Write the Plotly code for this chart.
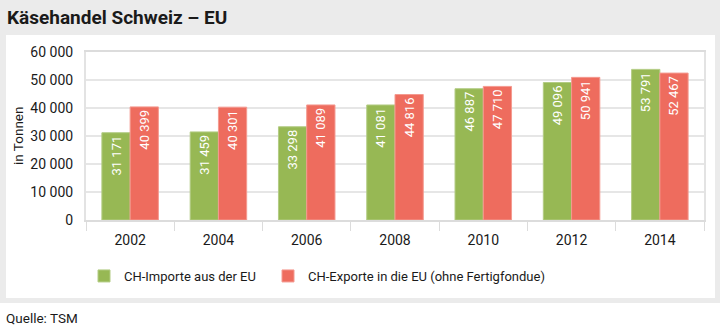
import plotly.graph_objects as go

years = ["2002", "2004", "2006", "2008", "2010", "2012", "2014"]
imports_eu = [31171, 31459, 33298, 41081, 46887, 49096, 53791]
exports_eu = [40399, 40301, 41089, 44816, 47710, 50941, 52467]
series_names = ["CH-Importe aus der EU", "CH-Exporte in die EU (ohne Fertigfondue)"]
y_ticks = [0, 10000, 20000, 30000, 40000, 50000, 60000]

W, H = 720, 327
L, R, T, B = 86, 16, 52, 107
PW, PH = W - L - R, H - T - B

def px(x):
    return (x - L) / PW

def py(y):
    return (H - B - y) / PH

FONT = "Roboto, sans-serif"
GREEN = "#97b854"
RED = "#ee6c5e"

fig = go.Figure()
fig.add_bar(x=years, y=imports_eu, name=series_names[0], legend="legend",
            marker=dict(color=GREEN, line=dict(color="#b3cc84", width=1)),
            texttemplate="%{y:,}", textposition="inside", insidetextanchor="end",
            textangle=-90, textfont=dict(color="white", size=13, family=FONT))
fig.add_bar(x=years, y=exports_eu, name=series_names[1], legend="legend2",
            marker=dict(color=RED, line=dict(color="#f49a90", width=1)),
            texttemplate="%{y:,}", textposition="inside", insidetextanchor="end",
            textangle=-90, textfont=dict(color="white", size=13, family=FONT))

shapes = [
    dict(type="rect", xref="paper", yref="paper", x0=px(0), x1=px(720), y0=py(0), y1=py(303),
         fillcolor="#ebebeb", line=dict(width=0), layer="below"),
    dict(type="rect", xref="paper", yref="paper", x0=px(6), x1=px(715), y0=py(35), y1=py(298),
         fillcolor="white", line=dict(width=0), layer="below"),
]

annotations = [
    dict(text="<b>Käsehandel Schweiz – EU</b>", xref="paper", yref="paper", x=px(5), y=py(17),
         xanchor="left", yanchor="middle", showarrow=False,
         font=dict(family=FONT, size=19, color="#1a1a1a")),
    dict(text="Quelle: TSM", xref="paper", yref="paper", x=px(4), y=py(318),
         xanchor="left", yanchor="middle", showarrow=False,
         font=dict(family=FONT, size=13.5, color="#1a1a1a")),
    dict(text="in Tonnen", xref="paper", yref="paper", x=px(18), y=py(136),
         xanchor="center", yanchor="middle", showarrow=False, textangle=-90,
         font=dict(family=FONT, size=13.5, color="#1a1a1a")),
]

leg_font = dict(family=FONT, size=13, color="#1a1a1a")
fig.update_layout(
    width=W, height=H,
    margin=dict(l=L, r=R, t=T, b=B, autoexpand=False),
    paper_bgcolor="white", plot_bgcolor="white",
    barmode="group", bargap=0.36, bargroupgap=0,
    separators=". ",
    font=dict(family=FONT, size=14, color="#1a1a1a"),
    shapes=shapes, annotations=annotations,
    legend=dict(orientation="h", x=px(84), y=py(276), xanchor="left", yanchor="middle",
                font=leg_font, bgcolor="rgba(0,0,0,0)"),
    legend2=dict(orientation="h", x=px(268), y=py(276), xanchor="left", yanchor="middle",
                 font=leg_font, bgcolor="rgba(0,0,0,0)"),
    showlegend=True,
)
fig.update_xaxes(type="category", showline=True, linecolor="#dcdcdc", linewidth=2, mirror=True,
                 ticks="outside", tickson="boundaries", ticklen=9, tickcolor="#dcdcdc", tickwidth=1,
                 ticklabelstandoff=6,
                 showgrid=False, tickfont=dict(family=FONT, size=14, color="#1a1a1a"))
fig.update_yaxes(range=[0, 60000], tickvals=y_ticks, tickformat=",", showline=True,
                 linecolor="#e3e3e3", linewidth=2, mirror=True,
                 gridcolor="#e6e6e6", gridwidth=2, zeroline=False,
                 ticks="outside", ticklen=8, tickcolor="rgba(0,0,0,0)",
                 tickfont=dict(family=FONT, size=14, color="#1a1a1a"))

fig.write_html("out.html")
